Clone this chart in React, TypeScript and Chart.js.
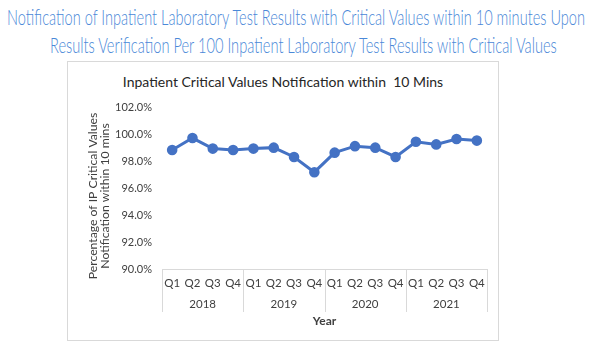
import React, { useEffect, useRef } from "react";
import { Chart, registerables } from "chart.js";

Chart.register(...registerables);

const quarters = ["Q1", "Q2", "Q3", "Q4", "Q1", "Q2", "Q3", "Q4", "Q1", "Q2", "Q3", "Q4", "Q1", "Q2", "Q3", "Q4"];
const years = ["2018", "2019", "2020", "2021"];
const values = [98.82, 99.7, 98.92, 98.82, 98.92, 98.99, 98.3, 97.17, 98.62, 99.1, 98.99, 98.3, 99.43, 99.23, 99.63, 99.51];
const yTicks = [90, 92, 94, 96, 98, 100, 102];

const pageTitle = [
  "Notification of Inpatient Laboratory Test Results with Critical Values within 10 minutes Upon",
  "Results Verification Per 100 Inpatient Laboratory Test Results with Critical Values",
];
const chartTitle = "Inpatient Critical Values Notification within  10 Mins";
const yTitle = ["Percentage of IP Critical Values", "Notification within 10 mins"];
const xTitle = "Year";

const FONT = "Lato, 'Open Sans', sans-serif";
const TEXT = "#404040";

const extrasPlugin = {
  id: "extras",
  afterDraw(chart: any) {
    const { ctx, chartArea } = chart;
    const xs = chart.scales.x;
    ctx.save();
    // group separators
    ctx.strokeStyle = "#d9d9d9";
    ctx.lineWidth = 1;
    for (let g = 0; g <= years.length; g++) {
      const x = Math.round(xs.getPixelForValue(g * 4 - 0.5)) + 0.5;
      ctx.beginPath();
      ctx.moveTo(x, chartArea.bottom);
      ctx.lineTo(x, chartArea.bottom + 43);
      ctx.stroke();
    }
    // year labels
    ctx.fillStyle = TEXT;
    ctx.font = `11.5px ${FONT}`;
    ctx.textAlign = "center";
    ctx.textBaseline = "middle";
    years.forEach((y, g) => {
      const x = xs.getPixelForValue(g * 4 + 1.5);
      ctx.fillText(y, x, chartArea.bottom + 35.5);
    });
    // x title
    ctx.font = `bold 12px ${FONT}`;
    ctx.fillText(xTitle, (chartArea.left + chartArea.right) / 2, chartArea.bottom + 52);
    // y title
    ctx.font = `12.2px ${FONT}`;
    ctx.translate(99, 196);
    ctx.rotate(-Math.PI / 2);
    ctx.fillText(yTitle[0], 0, -6.3);
    ctx.fillText(yTitle[1], 0, 6.3);
    ctx.restore();
  },
};

export default function App() {
  const canvasRef = useRef<HTMLCanvasElement>(null);
  const t1 = useRef<HTMLSpanElement>(null);
  const t2 = useRef<HTMLSpanElement>(null);

  useEffect(() => {
    const fit = (el: HTMLSpanElement | null, left: number, right: number) => {
      if (!el) return;
      const nat = el.offsetWidth;
      if (nat > 0) {
        el.style.left = left + "px";
        el.style.transform = `scaleX(${(right - left) / nat})`;
      }
    };
    fit(t1.current, 7, 585);
    fit(t2.current, 50, 557);

    const chart = new Chart(canvasRef.current as HTMLCanvasElement, {
      type: "line",
      data: {
        labels: quarters,
        datasets: [
          {
            data: values,
            borderColor: "#4472C4",
            backgroundColor: "#4472C4",
            borderWidth: 3,
            pointRadius: 3.8,
            pointBackgroundColor: "#4472C4",
            pointBorderColor: "#4472C4",
            tension: 0,
          },
        ],
      },
      options: {
        animation: false,
        responsive: false,
        devicePixelRatio: 1,
        layout: { padding: { left: 0, right: 113, top: 107, bottom: 39 } },
        plugins: {
          legend: { display: false },
          tooltip: { enabled: false },
          title: { display: false },
        },
        scales: {
          x: {
            type: "category",
            offset: true,
            grid: { display: false, drawTicks: false },
            border: { display: true, color: "#d9d9d9", width: 1 },
            ticks: {
              color: TEXT,
              font: { family: FONT, size: 11.5 },
              padding: 7,
              maxRotation: 0,
              autoSkip: false,
            },
            afterFit: (s: any) => {
              s.height = 50;
            },
          },
          y: {
            min: 90,
            max: 102,
            afterBuildTicks: (s: any) => {
              s.ticks = yTicks.map((v) => ({ value: v }));
            },
            grid: { display: false, drawTicks: false },
            border: { display: false },
            ticks: {
              color: TEXT,
              font: { family: FONT, size: 11 },
              padding: 10,
              callback: (v: any) => Number(v).toFixed(1) + "%",
            },
            afterFit: (s: any) => {
              s.width = 162;
            },
          },
        },
      },
      plugins: [extrasPlugin],
    } as any);
    return () => chart.destroy();
  }, []);

  const titleStyle: any = {
    position: "absolute",
    left: 0,
    whiteSpace: "nowrap",
    fontFamily: FONT,
    fontWeight: 300,
    fontSize: 21,
    lineHeight: 1.2,
    color: "#4a88d8",
    transformOrigin: "left center",
  };

  return (
    <div style={{ position: "absolute", left: 0, top: 0, width: 600, height: 358, background: "#fff", overflow: "hidden" }}>
      <span ref={t1} style={{ ...titleStyle, top: 4 }}>
        {pageTitle[0]}
      </span>
      <span ref={t2} style={{ ...titleStyle, top: 32 }}>
        {pageTitle[1]}
      </span>
      <div
        style={{
          position: "absolute",
          left: 67,
          top: 61,
          width: 432,
          height: 280,
          border: "1px solid #d9d9d9",
          boxSizing: "border-box",
        }}
      />
      <div
        style={{
          position: "absolute",
          left: 67,
          top: 73,
          width: 432,
          textAlign: "center",
          fontFamily: FONT,
          fontSize: 14,
          color: "#262626",
          whiteSpace: "pre",
          paddingRight: 2,
        }}
      >
        {chartTitle}
      </div>
      <canvas ref={canvasRef} width={600} height={358} style={{ position: "absolute", left: 0, top: 0 }} />
    </div>
  );
}
